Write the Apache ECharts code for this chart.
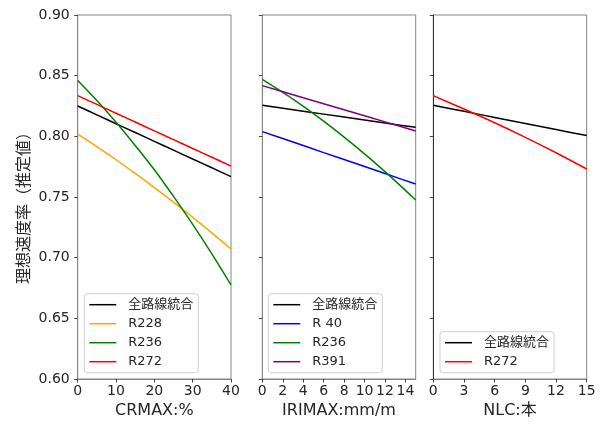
<!DOCTYPE html>
<html>
<head>
<meta charset="utf-8">
<script src="https://cdn.jsdelivr.net/npm/echarts@6/dist/echarts.min.js"></script>
<style>
html,body{margin:0;padding:0;background:#fff;}
#chart{width:603px;height:428px;}
</style>
</head>
<body>
<div id="chart"></div>
<script>
// ---- data ----
const yTicks = [0.60, 0.65, 0.70, 0.75, 0.80, 0.85, 0.90];

// Panel 1: CRMAX
const crX = [0, 5, 10, 15, 20, 25, 30, 35, 40];
const crAll  = [0.8250, 0.8177, 0.8104, 0.8032, 0.7959, 0.7886, 0.7813, 0.7741, 0.7668];
const crR228 = [0.8019, 0.7915, 0.7807, 0.7694, 0.7578, 0.7458, 0.7333, 0.7204, 0.7071];
const crR236 = [0.8460, 0.8295, 0.8116, 0.7925, 0.7725, 0.7505, 0.7274, 0.7031, 0.6775];
const crR272 = [0.8335, 0.8263, 0.8190, 0.8118, 0.8045, 0.7973, 0.7900, 0.7828, 0.7755];

// Panel 2: IRIMAX
const iriX = [0, 3, 6, 9, 12, 15];
const iriAll  = [0.8256, 0.8220, 0.8183, 0.8147, 0.8110, 0.8074];
const iriR40  = [0.8039, 0.7953, 0.7866, 0.7780, 0.7693, 0.7607];
const iriR236 = [0.8470, 0.8307, 0.8126, 0.7926, 0.7709, 0.7475];
const iriR391 = [0.8418, 0.8343, 0.8268, 0.8194, 0.8119, 0.8044];

// Panel 3: NLC
const nlcX = [0, 3, 6, 9, 12, 15];
const nlcAll  = [0.8256, 0.8206, 0.8156, 0.8106, 0.8056, 0.8006];
const nlcR272 = [0.8335, 0.8225, 0.8112, 0.7992, 0.7865, 0.7731];

const xNames = ['CRMAX:%', 'IRIMAX:mm/m', 'NLC:本'];
const yName = '理想速度率（推定値）';

// ---- chart ----
const FONT = '"DejaVu Sans", "Noto Sans CJK JP", sans-serif';
const AX = '#858585';
const TXT = '#262626';

const grids = [
  {left: 77.7, width: 153.3},
  {left: 262.3, width: 153.4},
  {left: 433.3, width: 153.4}
].map(g => ({left: g.left, width: g.width, top: 15, height: 364,
  show: true, borderColor: AX, borderWidth: 1, backgroundColor: 'transparent'}));

const xCfg = [
  {min: 0, max: 40, interval: 10},
  {min: 0, max: 15, interval: 2, hideMax: true},
  {min: 0, max: 15, interval: 3}
];

const xAxes = xCfg.map((c, i) => ({
  gridIndex: i, type: 'value', min: c.min, max: c.max, interval: c.interval,
  name: xNames[i], nameLocation: 'middle', nameGap: 22,
  nameTextStyle: {fontSize: 16, color: TXT, fontFamily: FONT},
  axisLine: {show: true, lineStyle: {color: AX, width: 1}},
  axisTick: {show: true, length: 3.5, inside: false, lineStyle: {color: '#444', width: 1}},
  axisLabel: {fontSize: 14, color: TXT, fontFamily: FONT, margin: 5, showMaxLabel: !c.hideMax},
  splitLine: {show: false}
}));

const yAxes = [0, 1, 2].map(i => ({
  gridIndex: i, type: 'value', min: yTicks[0], max: yTicks[yTicks.length - 1],
  interval: 0.05,
  axisLine: {show: true, lineStyle: {color: i === 2 ? '#333' : AX, width: 1}},
  axisTick: {show: true, length: 3.5, lineStyle: {color: '#444', width: 1}},
  axisLabel: {show: i === 0, fontSize: 14, color: TXT, fontFamily: FONT, margin: 8,
    formatter: v => v.toFixed(2)},
  splitLine: {show: false}
}));

function mk(name, xs, ys, idx, color) {
  return {
    name: name, type: 'line', xAxisIndex: idx, yAxisIndex: idx,
    data: xs.map((x, k) => [x, ys[k]]),
    showSymbol: false, symbol: 'none', smooth: 0.3,
    itemStyle: {color: color},
    lineStyle: {color: color, width: 1.5},
    emphasis: {disabled: true},
    animation: false
  };
}

const series = [
  mk('全路線統合', crX, crAll, 0, '#000000'),
  mk('R228', crX, crR228, 0, '#FFA500'),
  mk('R236', crX, crR236, 0, '#008000'),
  mk('R272', crX, crR272, 0, '#FF0000'),
  mk('全路線統合', iriX, iriAll, 1, '#000000'),
  mk('R 40', iriX, iriR40, 1, '#0000FF'),
  mk('R236', iriX, iriR236, 1, '#008000'),
  mk('R391', iriX, iriR391, 1, '#800080'),
  mk('全路線統合', nlcX, nlcAll, 2, '#000000'),
  mk('R272', nlcX, nlcR272, 2, '#FF0000')
];

function legend(data, left) {
  return {
    data: data, orient: 'vertical', left: left, bottom: 55.3,
    icon: 'rect', itemWidth: 27, itemHeight: 1.5, itemGap: 5,
    selectedMode: false,
    padding: [4, 5, 4, 5],
    backgroundColor: 'rgba(255,255,255,0.8)',
    borderColor: '#d0d0d0', borderWidth: 1, borderRadius: 3,
    textStyle: {fontSize: 13, lineHeight: 14, color: TXT, fontFamily: FONT, padding: [0, 0, 0, 7]}
  };
}

const option = {
  animation: false,
  backgroundColor: '#ffffff',
  grid: grids,
  xAxis: xAxes,
  yAxis: yAxes,
  legend: [
    legend(['全路線統合', 'R228', 'R236', 'R272'], 84.3),
    legend(['全路線統合', 'R 40', 'R236', 'R391'], 268.3),
    legend(['全路線統合', 'R272'], 440)
  ],
  graphic: [{
    type: 'text', x: 23, y: 204, rotation: Math.PI / 2,
    style: {text: yName, fontSize: 16, fontFamily: '"Noto Sans CJK JP", sans-serif',
      fill: TXT, align: 'center', verticalAlign: 'middle'}
  }],
  series: series
};

const chart = echarts.init(document.getElementById('chart'), null, {renderer: 'canvas'});
chart.setOption(option);
</script>
</body>
</html>
